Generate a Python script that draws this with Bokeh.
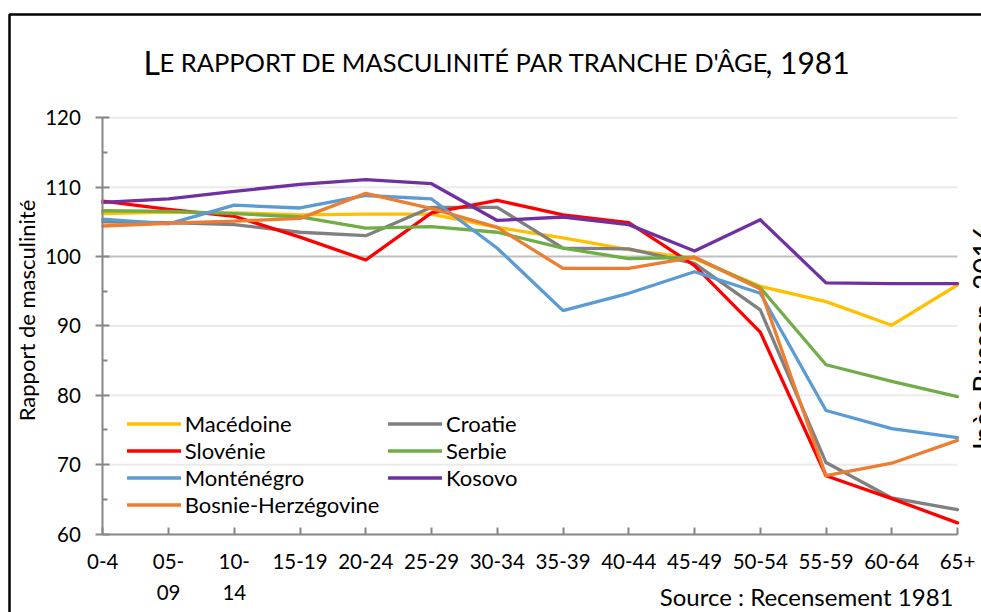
import math
from bokeh.plotting import figure
from bokeh.models import (Range1d, FixedTicker, Label, Legend, LegendItem, BoxAnnotation, LinearAxis)
from bokeh.embed import file_html
from bokeh.resources import INLINE

# ---- data ----
age_groups = ["0-4", "05-\n09", "10-\n14", "15-19", "20-24", "25-29", "30-34", "35-39",
              "40-44", "45-49", "50-54", "55-59", "60-64", "65+"]
macedoine = [106.2, 106.4, 106.3, 106.0, 106.1, 106.1, 104.2, 102.7, 101.0, 99.7, 95.7, 93.5, 90.1, 95.9]
croatie = [105.0, 104.9, 104.6, 103.5, 103.0, 107.1, 107.1, 101.2, 101.1, 99.0, 92.3, 70.3, 65.2, 63.5]
slovenie = [108.0, 106.8, 105.8, 102.8, 99.5, 106.3, 108.1, 106.0, 104.9, 98.7, 89.1, 68.4, 65.1, 61.6]
serbie = [106.6, 106.5, 106.2, 105.7, 104.1, 104.3, 103.5, 101.2, 99.7, 99.9, 95.5, 84.4, 82.0, 79.8]
montenegro = [105.4, 104.7, 107.4, 107.0, 108.8, 108.3, 101.2, 92.2, 94.7, 97.8, 94.7, 77.8, 75.2, 73.9]
kosovo = [107.8, 108.3, 109.4, 110.4, 111.1, 110.5, 105.2, 105.7, 104.6, 100.8, 105.3, 96.2, 96.1, 96.1]
bosnie = [104.4, 104.8, 105.1, 105.5, 109.1, 106.9, 104.2, 98.3, 98.3, 99.9, 95.3, 68.4, 70.2, 73.5]

series_names = ["Macédoine", "Croatie", "Slovénie", "Serbie", "Monténégro", "Kosovo", "Bosnie-Herzégovine"]
series_values = [macedoine, croatie, slovenie, serbie, montenegro, kosovo, bosnie]
series_colors = ["#FFC000", "#808080", "#FF0000", "#70AD47", "#5B9BD5", "#7030A0", "#ED7D31"]

y_ticks = [60, 70, 80, 90, 100, 110, 120]
y_minor = [65, 75, 85, 95, 105, 115]

FONT = "Lato"
W, H = 981, 612
x_idx = list(range(len(age_groups)))
n_last = len(age_groups) - 1

# pixel layout of the plotting area (used only to set the ranges)
PX_LEFT, PX_RIGHT, PX_TOP, PX_BOTTOM = 102.3, 957.0, 117.3, 533.5
ppx = (PX_RIGHT - PX_LEFT) / n_last
ppy = (PX_BOTTOM - PX_TOP) / (120 - 60)
x_range = Range1d(0 - PX_LEFT / ppx, n_last + (W - PX_RIGHT) / ppx)
y_range = Range1d(60 - (H - PX_BOTTOM) / ppy, 120 + PX_TOP / ppy)

p = figure(width=W, height=H, output_backend="svg", toolbar_location=None,
           x_range=x_range, y_range=y_range, x_axis_type=None, y_axis_type=None,
           min_border_left=0, min_border_right=0, min_border_top=0, min_border_bottom=0)
p.title.visible = False
p.outline_line_color = None
p.background_fill_color = "white"
p.border_fill_color = "white"

# grid lines (bounded to the category span)
grid_y = [t for t in y_ticks if t not in (60, 100)]
p.segment(x0=[0] * len(grid_y), x1=[n_last] * len(grid_y), y0=grid_y, y1=grid_y,
          line_color="#ebebeb", line_width=2)
p.segment(x0=[0], x1=[n_last], y0=[100], y1=[100], line_color="#bfbfbf", line_width=2)

# axes drawn at fixed data locations
yax = LinearAxis(fixed_location=0, bounds=(60, 120),
                 ticker=FixedTicker(ticks=y_ticks, minor_ticks=y_minor))
yax.major_tick_in = 7
yax.major_tick_out = 7
yax.minor_tick_in = 5
yax.minor_tick_out = 0
yax.major_label_standoff = 15
xax = LinearAxis(fixed_location=60, bounds=(0, n_last), ticker=FixedTicker(ticks=x_idx))
xax.major_label_overrides = {i: lab for i, lab in enumerate(age_groups)}
xax.major_tick_in = 7
xax.major_tick_out = 0
xax.major_label_standoff = 15
xax.major_label_text_line_height = 1.3
for ax in (xax, yax):
    ax.axis_line_color = "#868686"
    ax.axis_line_width = 2
    ax.major_tick_line_color = "#868686"
    ax.major_tick_line_width = 2
    ax.minor_tick_line_color = "#868686"
    ax.minor_tick_line_width = 2
    ax.major_label_text_font = FONT
    ax.major_label_text_font_size = "20.5px"
    ax.major_label_text_color = "black"
xax.minor_tick_line_color = None
p.add_layout(yax, "left")
p.add_layout(xax, "below")

# lines
renderers = []
for name, vals, col in zip(series_names, series_values, series_colors):
    r = p.line(x_idx, vals, line_color=col, line_width=3.3, line_join="round", line_cap="round")
    renderers.append(r)

rmap = dict(zip(series_names, renderers))
leg_common = dict(border_line_color=None, background_fill_alpha=0, padding=0, margin=0, spacing=0,
                  label_height=25, glyph_height=25, glyph_width=54, label_standoff=4,
                  label_text_font=FONT, label_text_font_size="22px", label_text_color="black")
leg1 = Legend(items=[LegendItem(label=n, renderers=[rmap[n]]) for n in
                     ["Macédoine", "Slovénie", "Monténégro", "Bosnie-Herzégovine"]],
              location=(126.7, H - 517.5), **leg_common)
leg2 = Legend(items=[LegendItem(label=n, renderers=[rmap[n]]) for n in
                     ["Croatie", "Serbie", "Kosovo"]],
              location=(388.0, H - 491.0), **leg_common)
p.add_layout(leg1)
p.add_layout(leg2)

# free texts, in screen pixels from the bottom-left corner of the canvas
def lab(x, y, text, size, **kw):
    p.add_layout(Label(x=x, y=H - y, x_units="screen", y_units="screen", text=text,
                       text_font=FONT, text_font_size=size, text_color="black", **kw))

# title in small capitals
lab(143, 61.5, "L", "32px", text_align="left", text_baseline="alphabetic")
lab(159, 61, "E RAPPORT DE MASCULINITÉ PAR TRANCHE D'ÂGE", "25.5px", text_align="left", text_baseline="alphabetic")
lab(765, 61.5, ", 1981", "30px", text_align="left", text_baseline="alphabetic")
# y axis title
lab(25.5, 310, "Rapport de masculinité", "22px", angle=math.pi / 2, text_align="center", text_baseline="alphabetic")
# source
lab(953, 595.5, "Source : Recensement 1981", "24px", text_align="right", text_baseline="alphabetic")
# author (cut by the right edge)
lab(965, 337, "Inès Busson, 2016", "28px", angle=math.pi / 2, text_align="center", text_baseline="top")

# outer chart frame
p.add_layout(BoxAnnotation(left=9, right=W + 50, top=H - 14, bottom=-50,
                           left_units="screen", right_units="screen", top_units="screen", bottom_units="screen",
                           fill_color=None, fill_alpha=0, line_color="black", line_alpha=1.0, line_width=2.5))

open("out.html", "w").write(file_html(p, INLINE))
